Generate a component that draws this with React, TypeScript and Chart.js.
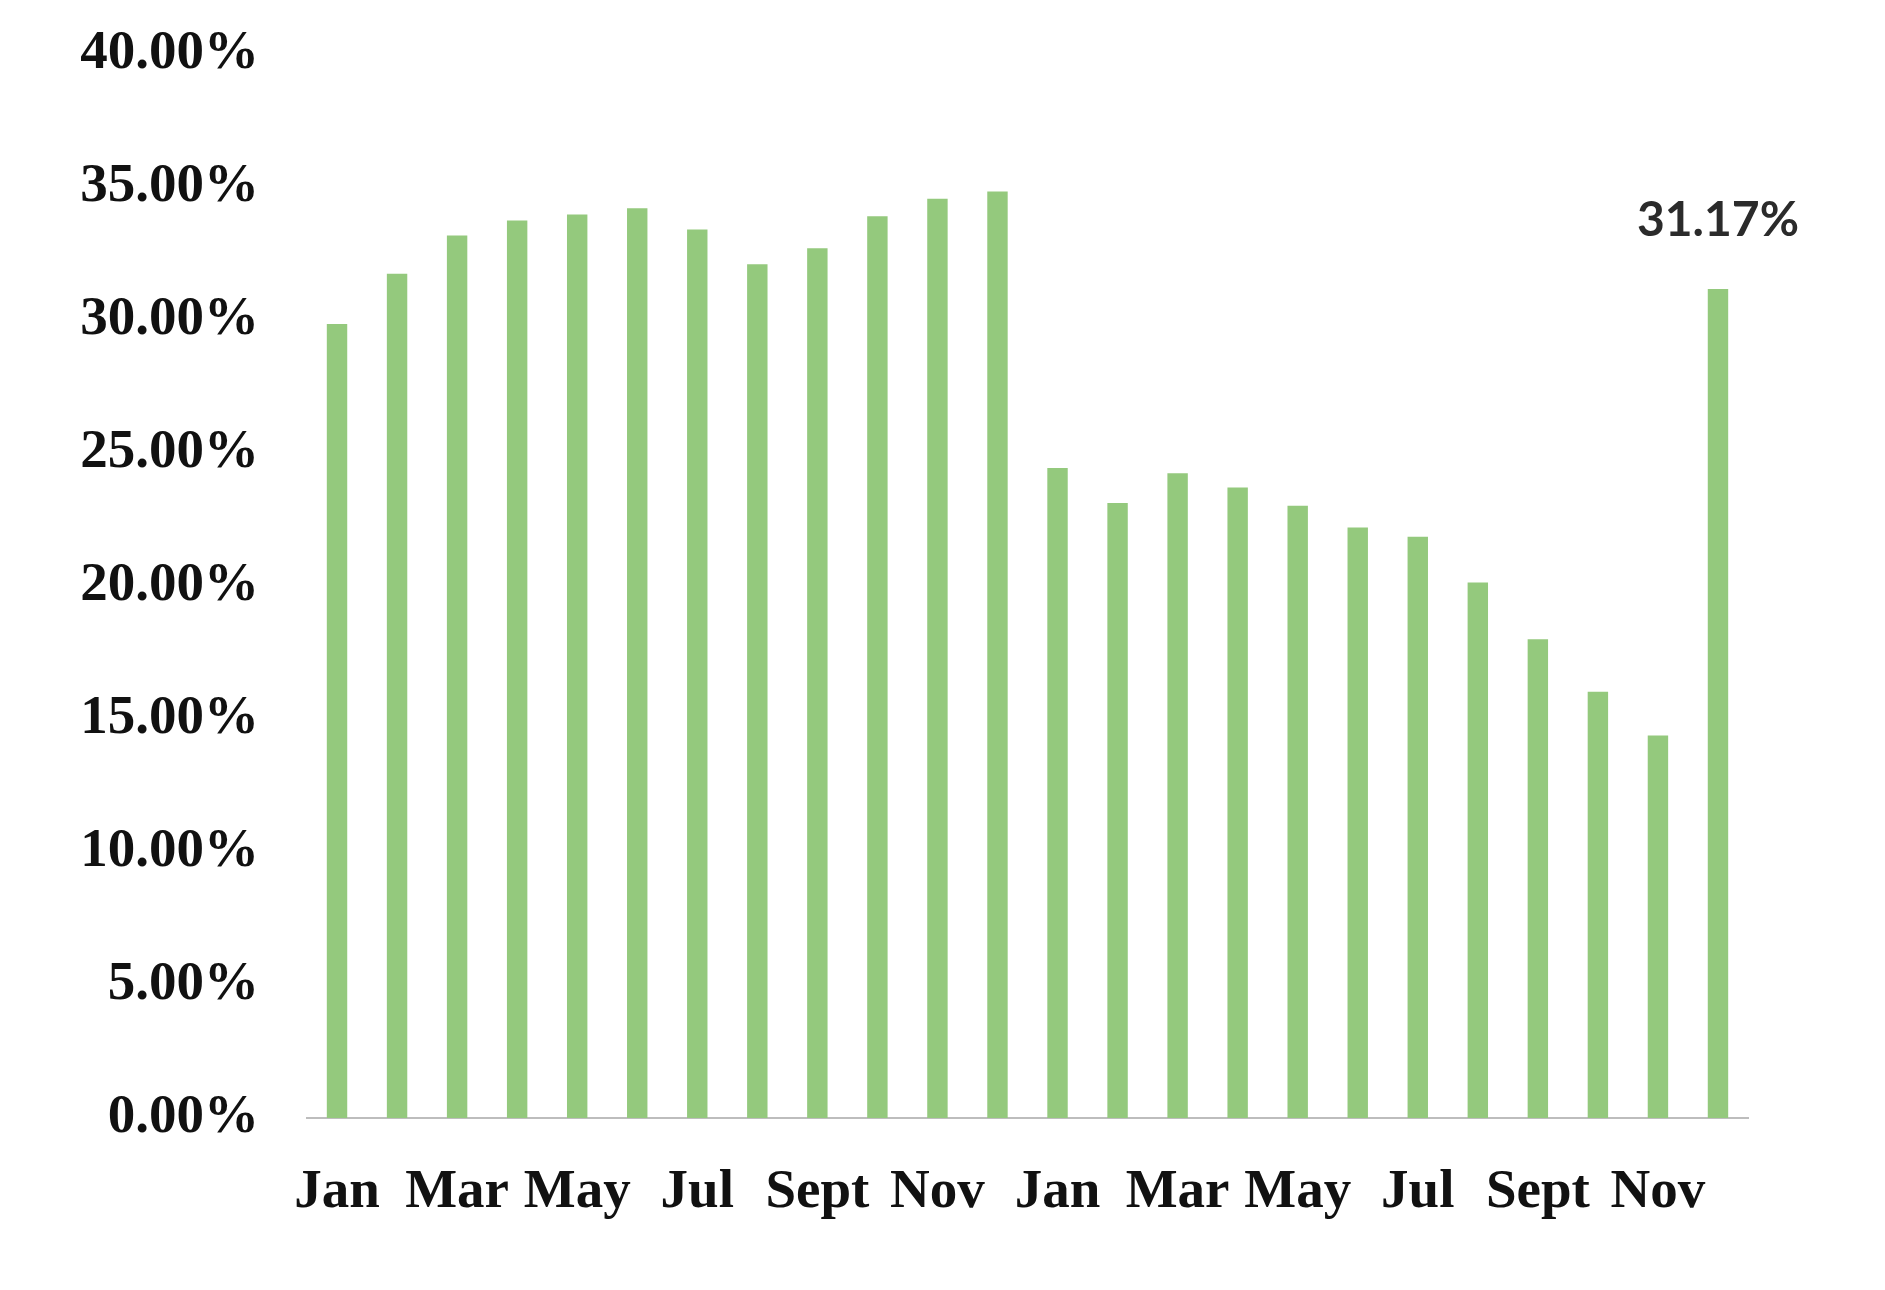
import React, { useEffect, useRef } from "react";
import { Chart, registerables } from "chart.js";

Chart.register(...registerables);

const months = [
  "Jan", "Feb", "Mar", "Apr", "May", "Jun", "Jul", "Aug", "Sept", "Oct", "Nov", "Dec",
  "Jan", "Feb", "Mar", "Apr", "May", "Jun", "Jul", "Aug", "Sept", "Oct", "Nov", "Dec",
];

const shareValues = [
  29.85, 31.74, 33.18, 33.74, 33.97, 34.2, 33.4, 32.1, 32.7, 33.9, 34.56, 34.83,
  24.44, 23.12, 24.24, 23.7, 23.02, 22.2, 21.85, 20.13, 18.0, 16.02, 14.38, 31.17,
];

const labelledIndex = [23];

const yTicks = [0, 5, 10, 15, 20, 25, 30, 35, 40];

const valueLabelPlugin = {
  id: "valueLabel",
  afterDatasetsDraw(chart: any) {
    const ctx = chart.ctx;
    const meta = chart.getDatasetMeta(0);
    ctx.save();
    ctx.font = "bold 48px Lato";
    ctx.fillStyle = "#2b2b2b";
    ctx.textAlign = "center";
    ctx.textBaseline = "bottom";
    labelledIndex.forEach((i) => {
      const el = meta.data[i];
      if (!el) return;
      ctx.fillText(shareValues[i].toFixed(2) + "%", el.x, el.y - 44);
    });
    ctx.restore();
  },
};

export default function App() {
  const canvasRef = useRef<HTMLCanvasElement | null>(null);

  useEffect(() => {
    if (!canvasRef.current) return;
    const chart = new Chart(canvasRef.current, {
      type: "bar",
      data: {
        labels: months,
        datasets: [
          {
            data: shareValues,
            backgroundColor: "#94C97D",
            barPercentage: 0.68,
            categoryPercentage: 0.5,
          },
        ],
      },
      options: {
        responsive: false,
        animation: false,
        layout: { padding: { left: 0, right: 137, top: 54, bottom: 0 } },
        plugins: {
          legend: { display: false },
          tooltip: { enabled: false },
        },
        scales: {
          x: {
            grid: { display: false, drawTicks: false },
            border: { display: true, color: "#bdbdbd", width: 2 },
            afterFit: (scale: any) => {
              scale.height = 172;
              scale.paddingLeft = 0;
              scale.paddingRight = 0;
            },
            ticks: {
              autoSkip: false,
              maxRotation: 0,
              minRotation: 0,
              padding: 42,
              color: "#111111",
              font: { family: "Liberation Serif", size: 55, weight: "bold" },
              callback: (_v: any, i: number) => (i % 2 === 0 ? months[i] : ""),
            },
          },
          y: {
            min: 0,
            max: 40,
            afterFit: (scale: any) => {
              scale.width = 307;
              scale.paddingTop = 0;
              scale.paddingBottom = 0;
            },
            afterBuildTicks: (scale: any) => {
              scale.ticks = yTicks.map((v) => ({ value: v }));
            },
            grid: { display: false, drawTicks: false },
            border: { display: false },
            ticks: {
              padding: 48,
              color: "#111111",
              font: { family: "Liberation Serif", size: 55, weight: "bold" },
              callback: (v: any) => Number(v).toFixed(2) + "%",
            },
          },
        },
      },
      plugins: [valueLabelPlugin],
    });
    return () => chart.destroy();
  }, []);

  return (
    <div style={{ position: "fixed", left: 0, top: 0, width: 1885, height: 1290, background: "#ffffff" }}>
      <canvas ref={canvasRef} width={1885} height={1290} style={{ width: 1885, height: 1290 }} />
    </div>
  );
}
